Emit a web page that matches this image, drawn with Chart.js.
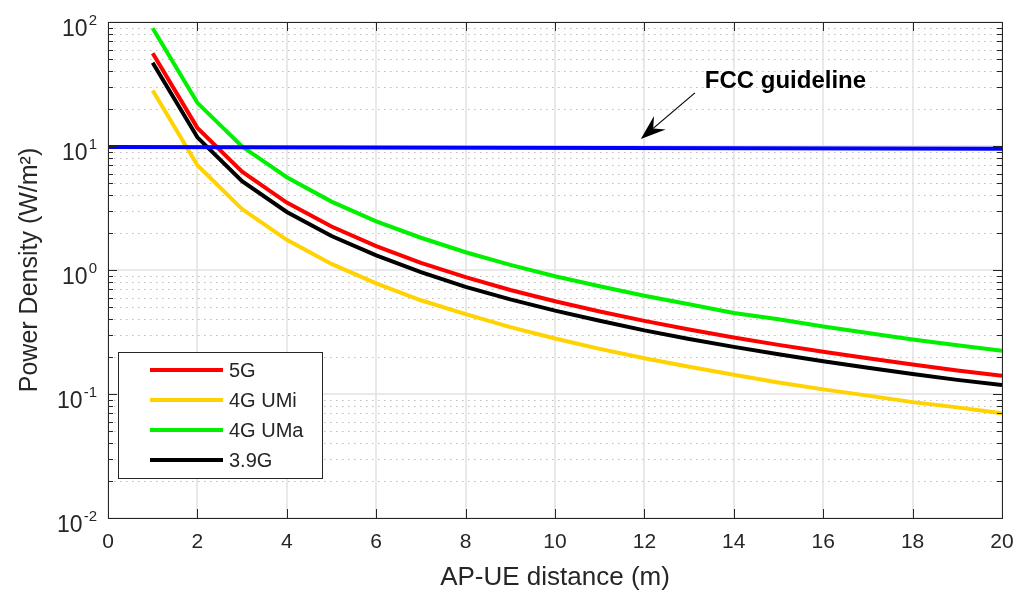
<!DOCTYPE html>
<html>
<head>
<meta charset="utf-8">
<script src="https://cdn.jsdelivr.net/npm/chart.js@4.4.1/dist/chart.umd.min.js"></script>
<style>
  html, body { margin: 0; padding: 0; background: #fff; }
  #wrap { width: 1016px; height: 596px; }
</style>
</head>
<body>
<div id="wrap"><canvas id="chartCanvas" width="1016" height="596"></canvas></div>
<script>
// values
const distances = [1, 2, 3, 4, 5, 6, 7, 8, 9, 10, 11, 12, 13, 14, 15, 16, 17, 18, 19, 20];
const power5G   = [56, 14, 6.2, 3.5, 2.24, 1.56, 1.14, 0.875, 0.69, 0.56, 0.463, 0.389, 0.331, 0.286, 0.249, 0.219, 0.194, 0.173, 0.155, 0.14];
const power4GUMi = [28, 7.0, 3.1, 1.75, 1.12, 0.78, 0.57, 0.44, 0.346, 0.28, 0.231, 0.194, 0.166, 0.143, 0.124, 0.109, 0.097, 0.086, 0.078, 0.07];
const power4GUMa = [89, 22.3, 9.9, 5.6, 3.56, 2.47, 1.82, 1.39, 1.10, 0.89, 0.74, 0.62, 0.53, 0.45, 0.40, 0.35, 0.31, 0.275, 0.247, 0.223];
const power39G  = [47, 11.75, 5.2, 2.94, 1.88, 1.31, 0.96, 0.73, 0.58, 0.47, 0.39, 0.326, 0.278, 0.24, 0.209, 0.184, 0.163, 0.145, 0.130, 0.118];
const fccX = [0, 20];
const fccY = [9.8, 9.5];

const seriesLabels = ["5G", "4G UMi", "4G UMa", "3.9G"];
const seriesColors = ["#ff0000", "#ffd200", "#00f000", "#000000"];
const xTicks = [0, 2, 4, 6, 8, 10, 12, 14, 16, 18, 20];
const yDecades = [0.01, 0.1, 1, 10, 100];
const yExponents = ["-2", "-1", "0", "1", "2"];

// annotation anchor points, data units
const fccText = "FCC guideline";
const fccTextAt = { x: 13.35, y: 29.4 };
const arrowFrom = { x: 13.13, y: 26.8 };
const arrowTo = { x: 11.92, y: 11.4 };

const FONT = '"Liberation Sans", Arial, Helvetica, sans-serif';
const AXIS = "#262626";

const toPoints = (xs, ys) => xs.map((x, i) => ({ x, y: ys[i] }));
const allSeries = [power5G, power4GUMi, power4GUMa, power39G];

const matlabFrame = {
  id: "matlabFrame",
  beforeDatasetsDraw(chart) {
    const { ctx, chartArea: a, scales: { x, y } } = chart;
    ctx.save();
    // minor y grid, dotted
    ctx.strokeStyle = "#bdbdbd";
    ctx.lineWidth = 1;
    ctx.setLineDash([1.5, 4.5]);
    yDecades.slice(0, -1).forEach(d => {
      for (let m = 2; m <= 9; m++) {
        const py = Math.round(y.getPixelForValue(d * m)) + 0.5;
        ctx.beginPath();
        ctx.moveTo(a.left, py);
        ctx.lineTo(a.right, py);
        ctx.stroke();
      }
    });
    // major grid
    ctx.setLineDash([]);
    ctx.strokeStyle = "#e2e2e2";
    ctx.lineWidth = 1.5;
    xTicks.forEach(v => {
      const px = Math.round(x.getPixelForValue(v));
      ctx.beginPath();
      ctx.moveTo(px, a.top);
      ctx.lineTo(px, a.bottom);
      ctx.stroke();
    });
    yDecades.forEach(v => {
      const py = Math.round(y.getPixelForValue(v));
      ctx.beginPath();
      ctx.moveTo(a.left, py);
      ctx.lineTo(a.right, py);
      ctx.stroke();
    });
    ctx.restore();
  },
  afterDatasetsDraw(chart) {
    const { ctx, chartArea: a, scales: { x, y } } = chart;
    ctx.save();
    ctx.strokeStyle = AXIS;
    ctx.lineWidth = 1;
    // box
    ctx.strokeRect(Math.round(a.left) + 0.5, Math.round(a.top) + 0.5,
      Math.round(a.right - a.left), Math.round(a.bottom - a.top));
    // x ticks, bottom and top, pointing in
    ctx.beginPath();
    xTicks.forEach(v => {
      const px = Math.round(x.getPixelForValue(v)) + 0.5;
      ctx.moveTo(px, a.bottom); ctx.lineTo(px, a.bottom - 9);
      ctx.moveTo(px, a.top); ctx.lineTo(px, a.top + 9);
    });
    // y ticks, left and right
    yDecades.forEach((d, i) => {
      const py = Math.round(y.getPixelForValue(d)) + 0.5;
      ctx.moveTo(a.left, py); ctx.lineTo(a.left + 9, py);
      ctx.moveTo(a.right, py); ctx.lineTo(a.right - 9, py);
      if (i < yDecades.length - 1) {
        for (let m = 2; m <= 9; m++) {
          const pm = Math.round(y.getPixelForValue(d * m)) + 0.5;
          ctx.moveTo(a.left, pm); ctx.lineTo(a.left + 5, pm);
          ctx.moveTo(a.right, pm); ctx.lineTo(a.right - 5, pm);
        }
      }
    });
    ctx.stroke();

    // y tick labels 10^n
    ctx.fillStyle = AXIS;
    ctx.textBaseline = "alphabetic";
    yDecades.forEach((v, i) => {
      const py = y.getPixelForValue(v);
      const right = a.left - 11;
      ctx.font = "15px " + FONT;
      const ew = ctx.measureText(yExponents[i]).width;
      ctx.textAlign = "left";
      ctx.fillText(yExponents[i], right - ew, py + 2.5);
      ctx.font = "23px " + FONT;
      ctx.textAlign = "right";
      ctx.fillText("10", right - ew - 1, py + 13.5);
    });

    // legend
    const lx = 118, ly = 352, lw = 204, lh = 126;
    ctx.fillStyle = "#fff";
    ctx.fillRect(lx, ly, lw, lh);
    ctx.strokeStyle = AXIS;
    ctx.lineWidth = 1;
    ctx.strokeRect(lx + 0.5, ly + 0.5, lw, lh);
    ctx.font = "20px " + FONT;
    ctx.textAlign = "left";
    ctx.textBaseline = "middle";
    seriesLabels.forEach((lab, i) => {
      const ry = ly + 18 + i * 30;
      ctx.strokeStyle = seriesColors[i];
      ctx.lineWidth = 4;
      ctx.beginPath();
      ctx.moveTo(150, ry);
      ctx.lineTo(223, ry);
      ctx.stroke();
      ctx.fillStyle = AXIS;
      ctx.fillText(lab, 229, ry + 1);
    });

    // FCC annotation
    ctx.fillStyle = "#000";
    ctx.font = "bold 24px " + FONT;
    ctx.textBaseline = "alphabetic";
    ctx.fillText(fccText, x.getPixelForValue(fccTextAt.x), y.getPixelForValue(fccTextAt.y));
    const x0 = x.getPixelForValue(arrowFrom.x), y0 = y.getPixelForValue(arrowFrom.y);
    const x1 = x.getPixelForValue(arrowTo.x), y1 = y.getPixelForValue(arrowTo.y);
    const ang = Math.atan2(y1 - y0, x1 - x0);
    const hl = 25, hw = 9;
    const bx = x1 - hl * Math.cos(ang), by = y1 - hl * Math.sin(ang);
    const nx = x1 - hl * 0.65 * Math.cos(ang), ny = y1 - hl * 0.65 * Math.sin(ang);
    ctx.strokeStyle = "#000";
    ctx.lineWidth = 1.2;
    ctx.beginPath();
    ctx.moveTo(x0, y0);
    ctx.lineTo(nx, ny);
    ctx.stroke();
    ctx.beginPath();
    ctx.moveTo(x1, y1);
    ctx.lineTo(bx - hw * Math.sin(ang), by + hw * Math.cos(ang));
    ctx.lineTo(nx, ny);
    ctx.lineTo(bx + hw * Math.sin(ang), by - hw * Math.cos(ang));
    ctx.closePath();
    ctx.fill();
    ctx.restore();
  }
};

const datasets = allSeries.map((vals, i) => ({
  label: seriesLabels[i],
  data: toPoints(distances, vals),
  borderColor: seriesColors[i],
  backgroundColor: seriesColors[i],
  borderWidth: 4,
  pointRadius: 0,
  tension: 0,
  fill: false,
  order: i + 1
}));
datasets.push({
  label: "FCC guideline",
  data: toPoints(fccX, fccY),
  borderColor: "#0000ff",
  backgroundColor: "#0000ff",
  borderWidth: 4,
  pointRadius: 0,
  tension: 0,
  fill: false,
  order: 0
});

new Chart(document.getElementById("chartCanvas").getContext("2d"), {
  type: "line",
  data: { datasets },
  options: {
    responsive: false,
    animation: false,
    devicePixelRatio: 1,
    layout: { padding: { top: 22, right: 14, left: 0, bottom: 0 } },
    plugins: {
      legend: { display: false },
      tooltip: { enabled: false }
    },
    scales: {
      x: {
        type: "linear",
        min: 0,
        max: 20,
        afterBuildTicks: s => { s.ticks = xTicks.map(v => ({ value: v })); },
        afterFit: s => { s.height = 78; s.paddingLeft = 0; s.paddingRight = 0; },
        grid: { display: false, drawTicks: false },
        border: { display: false },
        ticks: {
          color: AXIS,
          font: { family: FONT, size: 21 },
          padding: 12,
          maxRotation: 0,
          autoSkip: false
        },
        title: {
          display: true,
          text: "AP-UE distance (m)",
          color: AXIS,
          font: { family: FONT, size: 26 },
          padding: { top: 0, bottom: 3 }
        }
      },
      y: {
        type: "logarithmic",
        min: 0.01,
        max: 100,
        afterBuildTicks: s => { s.ticks = yDecades.map(v => ({ value: v })); },
        afterFit: s => { s.width = 108; s.paddingTop = 0; s.paddingBottom = 0; },
        grid: { display: false, drawTicks: false },
        border: { display: false },
        ticks: { display: false },
        title: {
          display: true,
          text: "Power Density (W/m²)",
          color: AXIS,
          font: { family: FONT, size: 25 },
          padding: { top: 15, bottom: 0 }
        }
      }
    }
  },
  plugins: [matlabFrame]
});
</script>
</body>
</html>
